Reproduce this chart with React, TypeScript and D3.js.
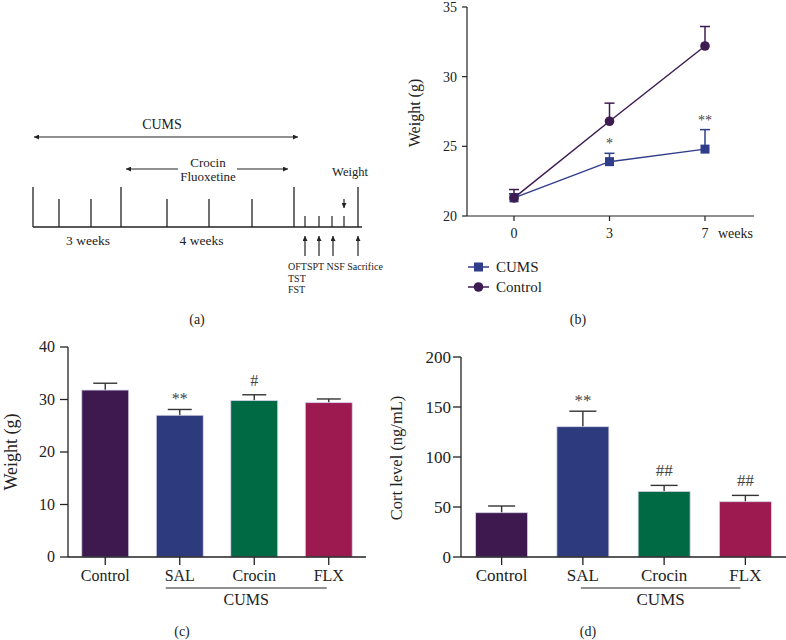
import React from 'react';
import * as d3 from 'd3';

// ---- Data ----
const weeks = ['0', '3', '7'];
const cumsMean = [21.3, 23.9, 24.8];
const cumsErr = [0.3, 0.6, 1.4];
const controlMean = [21.3, 26.8, 32.2];
const controlErr = [0.6, 1.3, 1.4];
const lineSig = ['', '*', '**'];
const lineTicks = [20, 25, 30, 35];

const groups = ['Control', 'SAL', 'Crocin', 'FLX'];
const weightMean = [31.8, 27.0, 29.8, 29.4];
const weightErr = [1.3, 1.1, 1.1, 0.7];
const weightSig = ['', '**', '#', ''];
const weightTicks = [0, 10, 20, 30, 40];

const cortMean = [44.3, 130.3, 65.6, 55.3];
const cortErr = [6.7, 15.5, 6.0, 6.3];
const cortSig = ['', '**', '##', '##'];
const cortTicks = [0, 50, 100, 150, 200];

const barColors = ['#3d1950', '#2e3a7e', '#006a44', '#9d1a51'];
const cumsColor = '#2f3d8a';
const controlColor = '#3e1c52';

// timeline (panel a): week index -> position
const tlWeeks = [0, 1, 2, 3, 4, 5, 6, 7];
const tlWeekPos = [33, 59, 91, 121, 167, 209, 252, 294];
const tlTall = [0, 3, 7];
const tlTests = [305, 319, 332, 344];
const tlEnd = 358;

const FONT = '"Liberation Serif", "DejaVu Serif", serif';
const INK = '#222';

function sigOffset(s: string) {
  return s.startsWith('#') ? 9 : 5;
}

function PanelA() {
  const x = d3.scaleLinear().domain(tlWeeks).range(tlWeekPos);
  const base = 227;
  return (
    <g fontFamily={FONT} fill={INK}>
      <line x1={x(0) + 1} x2={x(7) + 4} y1={137} y2={137} stroke={INK} strokeWidth={1.2} markerStart="url(#arrL)" markerEnd="url(#arrR)" />
      <text x={162} y={129} fontSize={14} textAnchor="middle">CUMS</text>
      <line x1={x(3) + 5} x2={178} y1={169} y2={169} stroke={INK} strokeWidth={1.2} markerStart="url(#arrL)" />
      <line x1={237} x2={x(7) - 6} y1={169} y2={169} stroke={INK} strokeWidth={1.2} markerEnd="url(#arrR)" />
      <text x={208} y={167} fontSize={13} textAnchor="middle">Crocin</text>
      <text x={208} y={181} fontSize={13} textAnchor="middle">Fluoxetine</text>
      <line x1={x(0)} x2={tlEnd + 4} y1={base} y2={base} stroke={INK} strokeWidth={1.3} />
      {tlWeeks.map((w) => (
        <line key={w} x1={x(w)} x2={x(w)} y1={base} y2={tlTall.includes(w) ? 187 : 199} stroke={INK} strokeWidth={1.3} />
      ))}
      {tlTests.map((p, i) => (
        <line key={i} x1={p} x2={p} y1={base} y2={216} stroke={INK} strokeWidth={1.2} />
      ))}
      <line x1={tlEnd} x2={tlEnd} y1={base} y2={187} stroke={INK} strokeWidth={1.3} />
      <line x1={344} x2={344} y1={199} y2={208} stroke={INK} strokeWidth={1.2} markerEnd="url(#arrD)" />
      <text x={350} y={176} fontSize={12.5} textAnchor="middle">Weight</text>
      <text x={(x(0) + x(3)) / 2 + 11} y={245} fontSize={13.5} textAnchor="middle">3 weeks</text>
      <text x={(x(3) + x(7)) / 2 - 6} y={245} fontSize={13.5} textAnchor="middle">4 weeks</text>
      {[305, 319, 333, 358].map((p, i) => (
        <line key={i} x1={p} x2={p} y1={256} y2={236} stroke={INK} strokeWidth={1.2} markerEnd="url(#arrU)" />
      ))}
      <text x={288} y={270} fontSize={10}>OFTSPT NSF Sacrifice</text>
      <text x={288} y={282} fontSize={10}>TST</text>
      <text x={288} y={293} fontSize={10}>FST</text>
      <text x={197} y={324} fontSize={14} textAnchor="middle">(a)</text>
    </g>
  );
}

function PanelB() {
  const x = d3.scalePoint<string>().domain(weeks).range([514, 705]);
  const y = d3.scaleLinear().domain([20, 35]).range([216, 7]);
  const line = d3.line<number>().x((_, i) => x(weeks[i]) as number).y((d) => y(d));
  const ax = 467;
  return (
    <g fontFamily={FONT} fill={INK}>
      <line x1={ax} x2={ax} y1={y(35)} y2={y(20)} stroke={INK} strokeWidth={1.2} />
      <line x1={ax} x2={754} y1={y(20)} y2={y(20)} stroke={INK} strokeWidth={1.2} />
      {lineTicks.map((t) => (
        <g key={t}>
          <line x1={ax - 5} x2={ax} y1={y(t)} y2={y(t)} stroke={INK} strokeWidth={1.2} />
          <text x={ax - 10} y={y(t) + 5} fontSize={14} textAnchor="end">{t}</text>
        </g>
      ))}
      {weeks.map((w) => (
        <g key={w}>
          <line x1={x(w)} x2={x(w)} y1={y(20)} y2={y(20) + 5} stroke={INK} strokeWidth={1.2} />
          <text x={x(w)} y={238} fontSize={14} textAnchor="middle">{w}</text>
        </g>
      ))}
      <text x={718} y={238} fontSize={14}>weeks</text>
      <text transform={`translate(414,113) rotate(-90)`} fontSize={16} textAnchor="middle" dominantBaseline="central">Weight (g)</text>
      <path d={line(cumsMean) || ''} fill="none" stroke={cumsColor} strokeWidth={1.5} />
      {cumsMean.map((m, i) => {
        const cx = x(weeks[i]) as number;
        return (
          <g key={i}>
            <line x1={cx} x2={cx} y1={y(m)} y2={y(m + cumsErr[i])} stroke={cumsColor} strokeWidth={1.5} />
            <line x1={cx - 5} x2={cx + 5} y1={y(m + cumsErr[i])} y2={y(m + cumsErr[i])} stroke={cumsColor} strokeWidth={1.5} />
            <rect x={cx - 4.5} y={y(m) - 4.5} width={9} height={9} fill={cumsColor} />
            {lineSig[i] && (
              <text x={cx} y={y(m + cumsErr[i]) - sigOffset(lineSig[i])} fontSize={14} textAnchor="middle" fill="#444">{lineSig[i]}</text>
            )}
          </g>
        );
      })}
      <path d={line(controlMean) || ''} fill="none" stroke={controlColor} strokeWidth={1.5} />
      {controlMean.map((m, i) => {
        const cx = x(weeks[i]) as number;
        return (
          <g key={i}>
            <line x1={cx} x2={cx} y1={y(m)} y2={y(m + controlErr[i])} stroke={controlColor} strokeWidth={1.5} />
            <line x1={cx - 5} x2={cx + 5} y1={y(m + controlErr[i])} y2={y(m + controlErr[i])} stroke={controlColor} strokeWidth={1.5} />
            <circle cx={cx} cy={y(m)} r={4.8} fill={controlColor} />
          </g>
        );
      })}
      <line x1={468} x2={489} y1={267} y2={267} stroke={cumsColor} strokeWidth={1.5} />
      <rect x={474} y={262.5} width={9} height={9} fill={cumsColor} />
      <text x={496} y={272} fontSize={15}>CUMS</text>
      <line x1={468} x2={489} y1={287} y2={287} stroke={controlColor} strokeWidth={1.5} />
      <circle cx={478.5} cy={287} r={4.8} fill={controlColor} />
      <text x={496} y={292} fontSize={15}>Control</text>
      <text x={578} y={324} fontSize={14} textAnchor="middle">(b)</text>
    </g>
  );
}

type BarProps = {
  means: number[];
  errs: number[];
  sig: string[];
  ticks: number[];
  yMax: number;
  axisX: number;
  axisEnd: number;
  yTop: number;
  yBottom: number;
  pad: number;
  cap: number;
  tickFont: number;
  labelGap: number;
  titleText: string;
  titleX: number;
  titleY: number;
  titleFont: number;
  groupStartOff: number;
  groupEndOff: number;
  panel: string;
  panelX: number;
};

function BarPanel(p: BarProps) {
  const x = d3.scaleBand<string>().domain(groups).range([p.axisX, p.axisEnd]).paddingInner(p.pad).paddingOuter(p.pad / 2);
  const y = d3.scaleLinear().domain([0, p.yMax]).range([p.yBottom, p.yTop]);
  const bw = x.bandwidth();
  const cx = (g: string) => (x(g) as number) + bw / 2;
  const gStart = cx('SAL') + p.groupStartOff;
  const gEnd = cx('FLX') + p.groupEndOff;
  return (
    <g fontFamily={FONT} fill={INK}>
      {groups.map((g, i) => {
        const top = y(p.means[i] + p.errs[i]);
        return (
          <g key={g}>
            <line x1={cx(g)} x2={cx(g)} y1={y(p.means[i]) + 2} y2={top} stroke="#333" strokeWidth={1.4} />
            <line x1={cx(g) - p.cap / 2} x2={cx(g) + p.cap / 2} y1={top} y2={top} stroke="#333" strokeWidth={1.4} />
            <rect x={x(g)} y={y(p.means[i])} width={bw} height={y(0) - y(p.means[i])} fill={barColors[i]} stroke="#d8d4ea" strokeWidth={0.8} />
            {p.sig[i] && (
              <text x={cx(g)} y={top - sigOffset(p.sig[i])} fontSize={p.tickFont} textAnchor="middle" fill="#444">{p.sig[i]}</text>
            )}
          </g>
        );
      })}
      <line x1={p.axisX} x2={p.axisX} y1={p.yTop} y2={p.yBottom} stroke={INK} strokeWidth={1.3} />
      <line x1={p.axisX} x2={p.axisEnd} y1={p.yBottom} y2={p.yBottom} stroke={INK} strokeWidth={1.3} />
      {p.ticks.map((t) => (
        <g key={t}>
          <line x1={p.axisX - 8} x2={p.axisX} y1={y(t)} y2={y(t)} stroke={INK} strokeWidth={1.3} />
          <text x={p.axisX - p.labelGap} y={y(t) + p.tickFont * 0.33} fontSize={p.tickFont} textAnchor="end">{t}</text>
        </g>
      ))}
      {groups.map((g) => (
        <g key={g}>
          <line x1={cx(g)} x2={cx(g)} y1={p.yBottom} y2={p.yBottom + 8} stroke={INK} strokeWidth={1.3} />
          <text x={cx(g)} y={581} fontSize={p.tickFont} textAnchor="middle">{g}</text>
        </g>
      ))}
      <line x1={gStart} x2={gEnd} y1={588} y2={588} stroke={INK} strokeWidth={1.2} />
      <text x={(gStart + gEnd) / 2} y={605} fontSize={p.tickFont} textAnchor="middle">CUMS</text>
      <text transform={`translate(${p.titleX},${p.titleY}) rotate(-90)`} fontSize={p.titleFont} textAnchor="middle" dominantBaseline="central">{p.titleText}</text>
      <text x={p.panelX} y={636} fontSize={14} textAnchor="middle">{p.panel}</text>
    </g>
  );
}

export default function App() {
  return (
    <svg width={786} height={640} style={{ position: 'absolute', left: 0, top: 0, background: '#fff' }}>
      <defs>
        <marker id="arrR" viewBox="0 0 10 10" refX="10" refY="5" markerWidth="6" markerHeight="5" orient="auto" markerUnits="userSpaceOnUse">
          <path d="M0,0 L10,5 L0,10 z" fill={INK} />
        </marker>
        <marker id="arrL" viewBox="0 0 10 10" refX="0" refY="5" markerWidth="6" markerHeight="5" orient="auto" markerUnits="userSpaceOnUse">
          <path d="M10,0 L0,5 L10,10 z" fill={INK} />
        </marker>
        <marker id="arrD" viewBox="0 0 10 10" refX="10" refY="5" markerWidth="6" markerHeight="5" orient="auto" markerUnits="userSpaceOnUse">
          <path d="M0,0 L10,5 L0,10 z" fill={INK} />
        </marker>
        <marker id="arrU" viewBox="0 0 10 10" refX="10" refY="5" markerWidth="6" markerHeight="5" orient="auto" markerUnits="userSpaceOnUse">
          <path d="M0,0 L10,5 L0,10 z" fill={INK} />
        </marker>
      </defs>
      <rect width={786} height={640} fill="#fff" />
      <PanelA />
      <PanelB />
      <BarPanel
        means={weightMean} errs={weightErr} sig={weightSig} ticks={weightTicks} yMax={40}
        axisX={68} axisEnd={366} yTop={347} yBottom={557} pad={0.37} cap={24} tickFont={16} labelGap={13}
        titleText="Weight (g)" titleX={11} titleY={452} titleFont={18}
        groupStartOff={-14} groupEndOff={-2} panel="(c)" panelX={182}
      />
      <BarPanel
        means={cortMean} errs={cortErr} sig={cortSig} ticks={cortTicks} yMax={200}
        axisX={461} axisEnd={786} yTop={357} yBottom={557} pad={0.36} cap={27} tickFont={17}
        labelGap={10}
        titleText="Cort level (ng/mL)" titleX={396} titleY={458} titleFont={16.5}
        groupStartOff={-2} groupEndOff={-5} panel="(d)" panelX={588}
      />
    </svg>
  );
}
